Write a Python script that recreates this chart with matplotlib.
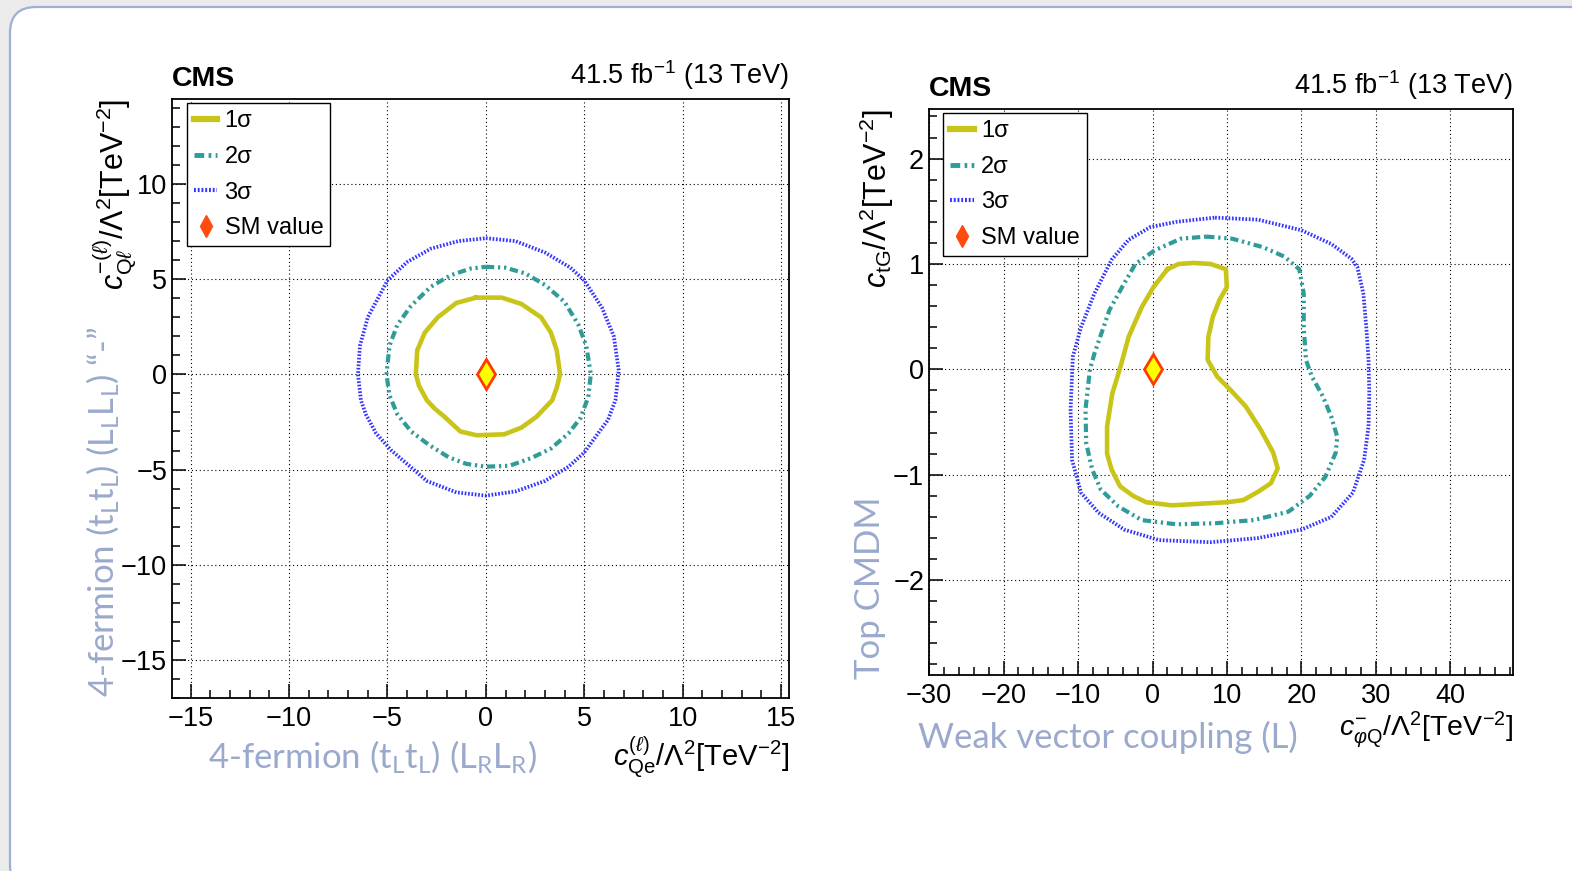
import matplotlib
matplotlib.use('Agg')
import matplotlib.pyplot as plt
from matplotlib.lines import Line2D
from matplotlib.patches import FancyBboxPatch
from matplotlib.ticker import MultipleLocator
from matplotlib.transforms import IdentityTransform

plt.rcParams['font.family'] = ['Liberation Sans', 'DejaVu Sans']
plt.rcParams['mathtext.fontset'] = 'custom'
plt.rcParams['mathtext.rm'] = 'Liberation Sans'
plt.rcParams['mathtext.it'] = 'Liberation Sans:italic'
plt.rcParams['mathtext.bf'] = 'Liberation Sans:bold'

# Left panel: c_Qe^(l) (x) vs c_Ql^-(l) (y), contours
qe_1s_x = [-0.5, 0.8, 1.8, 2.8, 3.3, 3.6, 3.77, 3.6, 3.37, 2.56, 1.8, 0.93, -0.47,
           -1.3, -2.09, -2.6, -3.0, -3.4, -3.56, -3.49, -3.1, -2.44, -1.5, -0.5]
qe_1s_y = [4.03, 4.03, 3.7, 3.0, 2.2, 1.26, 0.0, -0.7, -1.36, -2.24, -2.8, -3.15, -3.2,
           -3.0, -2.24, -1.8, -1.36, -0.6, 0.0, 1.26, 2.2, 3.0, 3.75, 4.03]

qe_2s_x = [0.0, 1.0, 2.0, 3.0, 4.0, 4.7, 5.1, 5.33, 5.2, 4.8, 4.2, 3.3, 2.3, 1.2, 0.0,
           -1.0, -1.9, -2.9, -3.8, -4.5, -4.9, -5.05, -4.9, -4.5, -3.8, -2.8, -1.8, -0.8, 0.0]
qe_2s_y = [5.65, 5.6, 5.3, 4.7, 3.8, 2.6, 1.5, 0.0, -1.2, -2.3, -3.1, -3.9, -4.4, -4.8, -4.85,
           -4.7, -4.35, -3.7, -3.0, -2.1, -1.1, 0.0, 1.5, 2.6, 3.6, 4.6, 5.2, 5.55, 5.65]

qe_3s_x = [0.0, 1.5, 3.0, 4.3, 5.0, 5.9, 6.5, 6.75, 6.58, 6.2, 5.7, 5.0, 4.2, 3.0, 1.5, 0.0,
           -1.5, -3.0, -3.84, -4.8, -5.58, -6.1, -6.35, -6.5, -6.4, -6.0, -5.0, -4.0, -2.8, -1.4, 0.0]
qe_3s_y = [7.15, 7.0, 6.4, 5.6, 4.93, 3.5, 2.0, 0.2, -1.36, -2.4, -3.1, -4.1, -4.85, -5.6, -6.15, -6.37,
           -6.2, -5.6, -4.85, -4.0, -3.1, -2.1, -1.36, 0.0, 1.5, 3.0, 4.93, 5.9, 6.6, 7.0, 7.15]

# Right panel: c_phiQ^- (x) vs c_tG (y)
tg_1s_x = [2.0, 3.5, 5.5, 7.8, 9.85, 9.97, 9.0, 8.1, 7.5, 7.4, 8.7, 10.4, 12.5, 14.5, 16.2,
           16.8, 15.9, 14.2, 12.2, 10.1, 2.6, -0.87, -2.6, -4.35, -5.5, -6.1, -6.1, -5.4,
           -4.2, -3.2, -1.45, 0.17, 2.0]
tg_1s_y = [0.95, 1.0, 1.01, 1.0, 0.95, 0.78, 0.66, 0.5, 0.31, 0.09, -0.07, -0.19, -0.35, -0.57, -0.79,
           -0.94, -1.08, -1.16, -1.24, -1.26, -1.29, -1.26, -1.2, -1.11, -0.95, -0.8, -0.54, -0.23,
           0.05, 0.31, 0.59, 0.785, 0.95]

tg_2s_x = [7.2, 10.7, 14.8, 17.7, 19.7, 20.3, 20.3, 20.6, 21.4, 22.9, 24.0, 24.8, 24.6, 23.2,
           21.1, 18.25, 13.6, 8.4, 3.2, -1.45, -4.6, -6.95, -8.1, -8.9, -9.0, -8.4, -7.8,
           -5.8, -4.05, -2.3, 0.3, 3.8, 7.2]
tg_2s_y = [1.26, 1.24, 1.16, 1.07, 0.95, 0.72, 0.4, 0.09, -0.07, -0.26, -0.45, -0.64, -0.79, -1.02,
           -1.2, -1.35, -1.43, -1.46, -1.47, -1.43, -1.3, -1.14, -0.95, -0.7, -0.38, 0.0, 0.15,
           0.56, 0.785, 1.0, 1.13, 1.24, 1.26]

tg_3s_x = [8.4, 14.2, 20.0, 24.0, 26.7, 27.5, 28.3, 28.7, 29.0, 29.1, 29.0, 28.4, 26.9,
           24.0, 20.0, 14.2, 7.8, 0.87, -3.8, -7.25, -9.6, -10.8, -11.0, -10.7, -9.6, -7.8,
           -5.5, -3.2, -0.3, 3.2, 8.4]
tg_3s_y = [1.44, 1.42, 1.32, 1.19, 1.05, 0.97, 0.72, 0.4, 0.09, -0.23, -0.54, -0.86, -1.17,
           -1.4, -1.52, -1.6, -1.64, -1.62, -1.52, -1.36, -1.17, -0.86, -0.38, 0.12, 0.4, 0.72,
           1.04, 1.23, 1.35, 1.40, 1.44]

sm_point = (0.0, 0.0)

c1 = '#c9c418'
c2 = '#2f9c98'
c3 = '#3434ff'
border = '#9dafd6'
note = '#9aa9cc'
dashdot = (2.0, 0.9, 0.55, 0.9, 0.55, 0.9)
dots = (0.45, 0.45)

fig = plt.figure(figsize=(15.72, 8.71), dpi=100, facecolor='#ebebeb')

# slide frame
box = FancyBboxPatch((10, -20), 1700, 884, boxstyle='round,pad=0,rounding_size=26',
                     transform=IdentityTransform(), facecolor='white', edgecolor=border,
                     linewidth=1.6, zorder=-10)
fig.patches.append(box)


def contour_panel(ax, curves, xlim, ylim, xmaj, xmin, ymaj, ymin):
    ax.set_xlim(*xlim)
    ax.set_ylim(*ylim)
    ax.xaxis.set_major_locator(MultipleLocator(xmaj))
    ax.xaxis.set_minor_locator(MultipleLocator(xmin))
    ax.yaxis.set_major_locator(MultipleLocator(ymaj))
    ax.yaxis.set_minor_locator(MultipleLocator(ymin))
    ax.tick_params(which='both', direction='in', top=False, right=False,
                   labelsize=19.5, width=1.1)
    ax.tick_params(axis='x', pad=6)
    ax.tick_params(axis='y', pad=3.5)
    ax.tick_params(which='major', length=10)
    ax.tick_params(which='minor', length=5.5)
    for s in ax.spines.values():
        s.set_linewidth(1.3)
    ax.grid(True, which='major', color='k', ls=(0, (1, 2.5)), lw=0.8)
    ax.set_axisbelow(True)

    (x1, y1), (x2, y2), (x3, y3) = curves
    ax.plot(x1, y1, color=c1, lw=3.3, solid_joinstyle='round', zorder=3)
    ax.plot(x2, y2, color=c2, lw=3.0, dashes=dashdot, zorder=3)
    ax.plot(x3, y3, color=c3, lw=2.7, dashes=dots, zorder=3)
    ax.plot(*sm_point, marker='d', ms=15, mfc='#ffff00', mec='#ff3c00', mew=2, ls='none', zorder=4)

    handles = [Line2D([], [], color=c1, lw=4.5),
               Line2D([], [], color=c2, lw=3.5, dashes=dashdot),
               Line2D([], [], color=c3, lw=3, dashes=dots),
               Line2D([], [], ls='none', marker='d', ms=11, color='#ff4a10')]
    leg = ax.legend(handles, ['1σ', '2σ', '3σ', 'SM value'], loc='upper left',
                    bbox_to_anchor=(0.024, 0.993), borderaxespad=0, fontsize=17,
                    frameon=True, fancybox=False, framealpha=1, edgecolor='k',
                    handlelength=1.0, handletextpad=0.3, labelspacing=0.58,
                    borderpad=0.3)
    leg.get_frame().set_linewidth(1.0)

    ax.text(0.0, 1.012, 'CMS', transform=ax.transAxes, ha='left', va='bottom',
            fontsize=20.5, fontweight='bold')
    ax.text(1.0, 1.012, r'41.5 fb$^{\mathregular{-1}}$ (13 TeV)', transform=ax.transAxes,
            ha='right', va='bottom', fontsize=19.5)


ax1 = fig.add_axes([0.1094, 0.1986, 0.3925, 0.6877])
contour_panel(ax1, [(qe_1s_x, qe_1s_y), (qe_2s_x, qe_2s_y), (qe_3s_x, qe_3s_y)],
              (-15.95, 15.4), (-17.0, 14.46), 5, 1, 5, 1)
ax1.text(1.0, -0.098, r'$c_{\mathrm{Qe}}^{(\ell)}/\Lambda^{2}[\mathrm{TeV}^{-2}]$',
         transform=ax1.transAxes, ha='right', va='center', fontsize=21)
ax1.text(-0.092, 1.0, r'$c_{\mathrm{Q}\ell}^{-(\ell)}/\Lambda^{2}[\mathrm{TeV}^{-2}]$',
         transform=ax1.transAxes, ha='center', va='top', rotation=90, fontsize=22)

ax2 = fig.add_axes([0.591, 0.225, 0.3715, 0.6498])
contour_panel(ax2, [(tg_1s_x, tg_1s_y), (tg_2s_x, tg_2s_y), (tg_3s_x, tg_3s_y)],
              (-30.0, 48.4), (-2.9, 2.47), 10, 2, 1, 0.2)
ax2.text(1.0, -0.096, r'$c_{\varphi\mathrm{Q}}^{-}/\Lambda^{2}[\mathrm{TeV}^{-2}]$',
         transform=ax2.transAxes, ha='right', va='center', fontsize=20.5)
ax2.text(-0.09, 1.0, r'$c_{\mathrm{tG}}/\Lambda^{2}[\mathrm{TeV}^{-2}]$',
         transform=ax2.transAxes, ha='center', va='top', rotation=90, fontsize=22)

# slide annotations
nf = ['Lato', 'DejaVu Sans']
fig.text(0.2366, 0.131, r'4-fermion (t$_\mathregular{L}$t$_\mathregular{L}$) (L$_\mathregular{R}$L$_\mathregular{R}$)',
         ha='center', va='center', fontsize=25, color=note, family=nf)
fig.text(0.0655, 0.412, r'4-fermion (t$_\mathregular{L}$t$_\mathregular{L}$) (L$_\mathregular{L}$L$_\mathregular{L}$) “-”',
         ha='center', va='center', rotation=90, fontsize=25, color=note, family=nf)
fig.text(0.5534, 0.325, 'Top CMDM', ha='center', va='center', rotation=90,
         fontsize=25, color=note, family=nf)
fig.text(0.705, 0.153, 'Weak vector coupling (L)', ha='center', va='center',
         fontsize=25, color=note, family=nf)

fig.savefig('out.png', dpi=100, facecolor=fig.get_facecolor())
